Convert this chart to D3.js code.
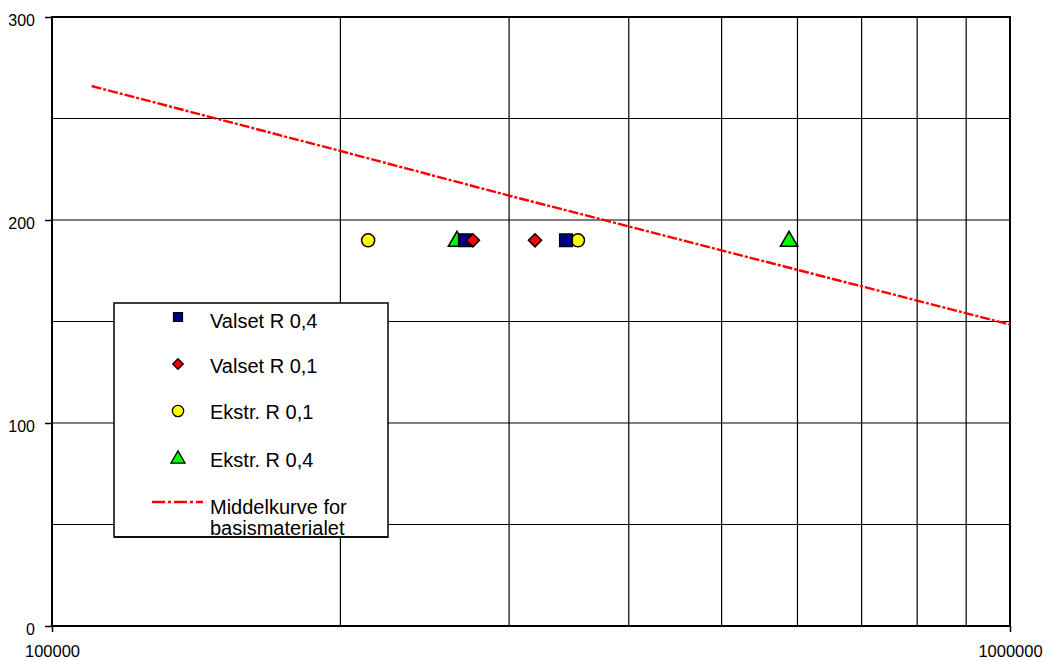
<!DOCTYPE html>
<html><head><meta charset="utf-8">
<script src="https://cdn.jsdelivr.net/npm/d3@7"></script>
<style>body{margin:0;background:#fff}svg{display:block}text{font-family:"Liberation Sans",Arial,sans-serif;fill:#000}</style>
</head><body>
<svg id="c" width="1047" height="661"></svg>
<script>
// Data
const valsetR04 = [[269800,190],[344000,190]];
const valsetR01 = [[275000,190],[319300,190]];
const ekstrR01 = [[213800,190],[354000,190]];
const ekstrR04 = [[264700,190],[588000,190]];
const middelkurve = [[110000,266],[200000,234],[300000,212],[1000000,148.5]];
const yTicks = [0,100,200,300];
const yGrid = [50,100,150,200,250];
const xGrid = [200000,300000,400000,500000,600000,700000,800000,900000];
const xTickLabels = [100000,1000000];
const legendNames = ["Valset R 0,4","Valset R 0,1","Ekstr. R 0,1","Ekstr. R 0,4","Middelkurve for","basismaterialet"];

const svg = d3.select("#c");
const L=52,R=1010,T=17,B=626;
const x = d3.scaleLog().domain([100000,1000000]).range([L,R]);
const y = d3.scaleLinear().domain([0,300]).range([B,T]);

// grid
svg.append("g").selectAll("line").data(xGrid).join("line")
 .attr("x1",d=>x(d)).attr("x2",d=>x(d)).attr("y1",T).attr("y2",B)
 .attr("stroke","#000").attr("stroke-width",1.2);
svg.append("g").selectAll("line").data(yGrid).join("line")
 .attr("x1",L).attr("x2",R).attr("y1",d=>y(d)).attr("y2",d=>y(d))
 .attr("stroke","#000").attr("stroke-width",1.2);

// frame
svg.append("rect").attr("x",L).attr("y",T).attr("width",R-L).attr("height",B-T)
 .attr("fill","none").attr("stroke","#000").attr("stroke-width",2);

// axes
const ya = d3.axisLeft(y).tickValues(yTicks).tickSize(7).tickPadding(10).tickFormat(d3.format("d"));
const yg = svg.append("g").attr("transform",`translate(${L},0)`).call(ya);
yg.select(".domain").remove();
yg.selectAll("line").attr("stroke","#000").attr("stroke-width",1.5);
yg.selectAll("text").style("font-size","16px").attr("dy","0.35em").attr("y",3);
const xa = d3.axisBottom(x).tickValues(xTickLabels).tickSize(6).tickPadding(13).tickFormat(d3.format("d"));
const xg = svg.append("g").attr("transform",`translate(0,${B})`).call(xa);
xg.select(".domain").remove();
xg.selectAll("line").attr("stroke","#000").attr("stroke-width",1.5);
xg.selectAll("text").style("font-size","16.5px");

// line
svg.append("path").datum(middelkurve)
 .attr("d",d3.line().x(d=>x(d[0])).y(d=>y(d[1])))
 .attr("fill","none").attr("stroke","#ff0000").attr("stroke-width",2.4)
 .attr("stroke-dasharray","10,2,3,2");

// markers
const sym = {
 sq: d3.symbol().type(d3.symbolSquare).size(160),
 di: d3.symbol().type(d3.symbolDiamond2).size(110),
 ci: d3.symbol().type(d3.symbolCircle).size(135),
 tr: d3.symbol().type(d3.symbolTriangle).size(130)
};
const series = [
 {data:ekstrR01, s:sym.ci, fill:"#ffff00"},
 {data:ekstrR04, s:sym.tr, fill:"#00ff00"},
 {data:valsetR04, s:sym.sq, fill:"#000080"},
 {data:valsetR01, s:sym.di, fill:"#ff0000"}
];
series.forEach(se=>{
 svg.append("g").selectAll("path").data(se.data).join("path")
  .attr("d",se.s).attr("transform",d=>`translate(${x(d[0])},${y(d[1])+(se.s===sym.tr?1:0)})`)
  .attr("fill",se.fill).attr("stroke","#000").attr("stroke-width",1.5);
});

// legend
const lg = svg.append("g");
lg.append("rect").attr("x",114).attr("y",303).attr("width",274).attr("height",234)
 .attr("fill","#fff").attr("stroke","#000").attr("stroke-width",1.5);
const legItems = [
 {name:legendNames[0], s:d3.symbol().type(d3.symbolSquare).size(80), fill:"#000080", yy:317, ty:328},
 {name:legendNames[1], s:d3.symbol().type(d3.symbolDiamond2).size(70), fill:"#ff0000", yy:364, ty:373},
 {name:legendNames[2], s:d3.symbol().type(d3.symbolCircle).size(100), fill:"#ffff00", yy:411, ty:419},
 {name:legendNames[3], s:d3.symbol().type(d3.symbolTriangle).size(85), fill:"#00ff00", yy:459, ty:467}
];
legItems.forEach(it=>{
 lg.append("path").attr("d",it.s).attr("transform",`translate(178,${it.yy})`)
  .attr("fill",it.fill).attr("stroke","#000").attr("stroke-width",1.3);
 lg.append("text").attr("x",210).attr("y",it.ty).style("font-size","20px").text(it.name);
});
lg.append("line").attr("x1",152).attr("x2",203).attr("y1",502).attr("y2",502)
 .attr("stroke","#ff0000").attr("stroke-width",2.4).attr("stroke-dasharray","13,3,3,3");
lg.append("text").attr("x",210).attr("y",514).style("font-size","20px").text(legendNames[4]);
svg.append("clipPath").attr("id","lc").append("rect").attr("x",114).attr("y",303).attr("width",274).attr("height",234);
lg.append("text").attr("x",210).attr("y",535).style("font-size","20px").attr("clip-path","url(#lc)").text(legendNames[5]);
lg.append("line").attr("x1",114).attr("x2",388).attr("y1",537).attr("y2",537).attr("stroke","#000").attr("stroke-width",1.5);
</script>
</body></html>
